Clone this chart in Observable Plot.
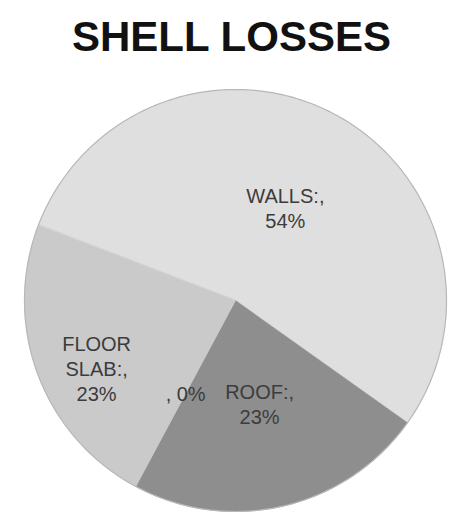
<!DOCTYPE html>
<html>
<head>
<meta charset="utf-8">
<script src="https://cdn.jsdelivr.net/npm/d3@7"></script>
<script src="https://cdn.jsdelivr.net/npm/@observablehq/plot@0.6"></script>
<style>
  html, body { margin: 0; padding: 0; background: #fff; }
  #title {
    box-sizing: border-box; height: 75px; padding-top: 16px; padding-left: 11px;
    font-family: "Liberation Sans", Arial, sans-serif; font-weight: bold;
    font-size: 42px; line-height: 42px; text-align: center; color: #111;
  }
  svg { display: block; }
</style>
</head>
<body>
<div id="title">SHELL LOSSES</div>
<div id="chart"></div>
<script>
const categories = ["WALLS", "ROOF", "", "FLOOR SLAB"];
const values = [54, 23, 0, 23];
const labels = ["WALLS:,\n54%", "ROOF:,\n23%", ", 0%", "FLOOR\nSLAB:,\n23%"];

const sliceColors = ["#dfdfdf", "#8e8e8e", "#b0b0b0", "#cacaca"];
const startDeg = 291;

const total = d3.sum(values);
let acc = startDeg;
const slices = categories.map((c, i) => {
  const a0 = acc;
  const a1 = acc + values[i] / total * 360;
  acc = a1;
  return {key: c, label: labels[i], a0, a1, mid: (a0 + a1) / 2};
});
const rad = (d) => d * Math.PI / 180;

const polyPts = [];
for (const s of slices) {
  if (s.a1 - s.a0 <= 0) continue;
  polyPts.push({key: s.key, x: 0, y: 0});
  const n = Math.max(2, Math.ceil(s.a1 - s.a0));
  for (let j = 0; j <= n; j++) {
    const a = rad(s.a0 + (s.a1 - s.a0) * j / n);
    polyPts.push({key: s.key, x: Math.sin(a), y: Math.cos(a)});
  }
}
const rim = d3.range(0, 361).map(d => ({x: Math.sin(rad(d)), y: Math.cos(rad(d))}));

const lab = slices.map(s => ({key: s.key, label: s.label, x: 0.5 * Math.sin(rad(s.mid)), y: 0.5 * Math.cos(rad(s.mid))}));

const chart = Plot.plot({
  width: 452, height: 448,
  marginLeft: 24, marginRight: 6, marginTop: 14, marginBottom: 12,
  x: {domain: [-1, 1], axis: null},
  y: {domain: [-1, 1], axis: null},
  color: {domain: categories, range: sliceColors},
  style: {fontFamily: "'Liberation Sans', Arial, sans-serif"},
  marks: [
    Plot.line(polyPts, {x: "x", y: "y", z: "key", fill: "key", stroke: "key", strokeWidth: 0.6, curve: "linear-closed"}),
    Plot.line(rim, {x: "x", y: "y", stroke: "#b8b8b8", strokeWidth: 1.2}),
    Plot.text(lab.filter(d => d.key !== "FLOOR SLAB"), {x: "x", y: "y", text: "label", fontSize: 20, lineHeight: 1.25, fill: "#3c3c3c"}),
    Plot.text(lab.filter(d => d.key === "FLOOR SLAB"), {x: "x", y: "y", text: "label", fontSize: 20, lineHeight: 1.25, fill: "#3c3c3c", dx: -40, dy: 31})
  ]
});
document.getElementById("chart").appendChild(chart);
</script>
</body>
</html>
